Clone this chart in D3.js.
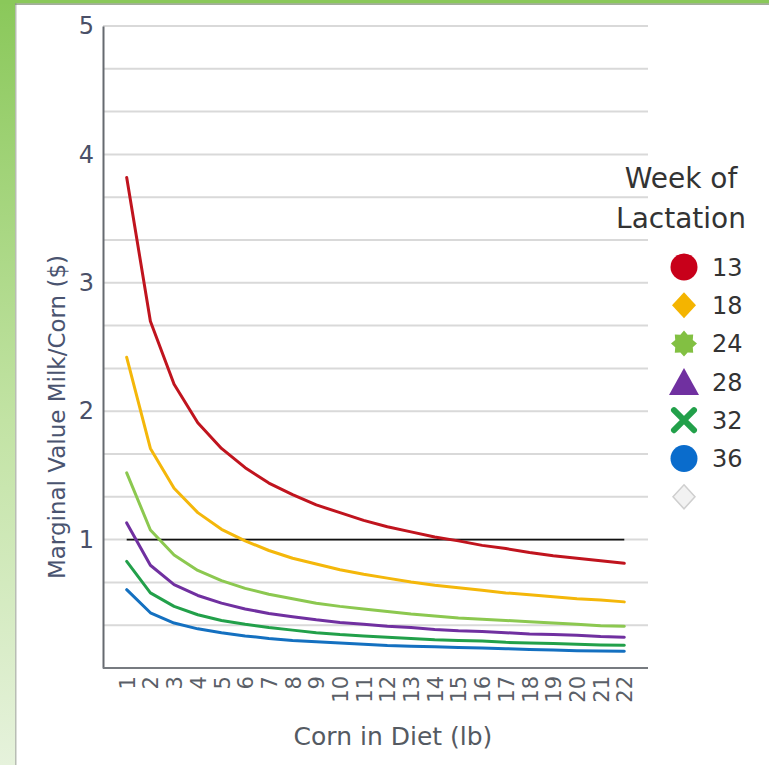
<!DOCTYPE html>
<html>
<head>
<meta charset="utf-8">
<script src="https://cdn.jsdelivr.net/npm/d3@7"></script>
<style>
  html, body { margin: 0; padding: 0; background: #ffffff; }
  svg { display: block; font-family: "DejaVu Sans", Verdana, sans-serif; }
</style>
</head>
<body>
<svg id="chart" width="769" height="765"></svg>
<script>
// ---- data ----
const cornLb = [1,2,3,4,5,6,7,8,9,10,11,12,13,14,15,16,17,18,19,20,21,22];
const weeks = ["13","18","24","28","32","36"];
const week13 = [3.82,2.70,2.21,1.91,1.71,1.56,1.44,1.35,1.27,1.21,1.15,1.10,1.06,1.02,0.99,0.955,0.93,0.90,0.875,0.855,0.835,0.815];
const week18 = [2.42,1.71,1.40,1.21,1.08,0.99,0.915,0.855,0.81,0.765,0.73,0.70,0.67,0.645,0.625,0.605,0.585,0.57,0.555,0.54,0.53,0.515];
const week24 = [1.52,1.075,0.88,0.76,0.68,0.62,0.575,0.54,0.505,0.48,0.46,0.44,0.42,0.405,0.39,0.38,0.37,0.36,0.35,0.34,0.33,0.325];
const week28 = [1.13,0.80,0.65,0.565,0.505,0.46,0.425,0.40,0.375,0.355,0.34,0.325,0.315,0.30,0.29,0.285,0.275,0.265,0.26,0.255,0.245,0.24];
const week32 = [0.83,0.585,0.48,0.415,0.37,0.34,0.315,0.295,0.275,0.26,0.25,0.24,0.23,0.22,0.215,0.21,0.20,0.195,0.19,0.185,0.18,0.177];
const week36 = [0.61,0.43,0.35,0.305,0.275,0.25,0.23,0.215,0.205,0.195,0.185,0.175,0.17,0.165,0.16,0.155,0.15,0.145,0.14,0.135,0.133,0.13];
const seriesValues = [week13, week18, week24, week28, week32, week36];
const seriesColors = ["#c0141e", "#f4b70a", "#8cc850", "#7030a0", "#22a04a", "#1470c0"];
const symbolColors = ["#c8001a", "#f4b400", "#82c042", "#7030a0", "#22a04a", "#0a6ccc"];
const symbolShapes = ["circle", "diamond", "star", "triangle", "cross", "circle"];
const yTicks = [1,2,3,4,5];
const yGrid = d3.range(1, 16).map(d => d / 3);
const referenceLevel = 1;

// ---- layout ----
const svg = d3.select("#chart");
const mLeft = 103, mRight = 648, mTop = 26, mBottom = 668;

// page decoration (green frame)
const defs = svg.append("defs");
const grad = defs.append("linearGradient").attr("id", "leftbar").attr("x1", 0).attr("y1", 0).attr("x2", 0).attr("y2", 1);
grad.append("stop").attr("offset", "0%").attr("stop-color", "#8ac85a");
grad.append("stop").attr("offset", "55%").attr("stop-color", "#c2e3a4");
grad.append("stop").attr("offset", "100%").attr("stop-color", "#e6f2dc");
svg.append("rect").attr("x", 0).attr("y", 0).attr("width", 15).attr("height", 765).attr("fill", "url(#leftbar)");
svg.append("rect").attr("x", 15).attr("y", 0).attr("width", 1.5).attr("height", 765).attr("fill", "#b8bdb4");
svg.append("rect").attr("x", 0).attr("y", 0).attr("width", 769).attr("height", 3.5).attr("fill", "#8ac85a");
svg.append("rect").attr("x", 15).attr("y", 3.5).attr("width", 754).attr("height", 1.2).attr("fill", "#7d8a72");

const x = d3.scalePoint().domain(cornLb).range([mLeft, mRight]).padding(1);
const y = d3.scaleLinear().domain([0, 5]).range([mBottom, mTop]);

// gridlines
svg.append("g").selectAll("line").data(yGrid).join("line")
  .attr("x1", mLeft).attr("x2", mRight)
  .attr("y1", d => y(d)).attr("y2", d => y(d))
  .attr("stroke", "#d9d9d9").attr("stroke-width", 2);

// y axis
const yAxis = svg.append("g").attr("transform", `translate(${mLeft},0)`)
  .call(d3.axisLeft(y).tickValues(yTicks).tickSize(0).tickPadding(9).tickFormat(d3.format("d")));
yAxis.select(".domain").attr("stroke", "#666a70").attr("stroke-width", 2);
yAxis.selectAll("text").attr("font-size", 24).attr("fill", "#4a5068")
  .attr("font-family", "DejaVu Sans, sans-serif");

// x axis
const xAxis = svg.append("g").attr("transform", `translate(0,${mBottom})`)
  .call(d3.axisBottom(x).tickSize(0).tickPadding(0));
xAxis.select(".domain").attr("d", `M${mLeft},0H${mRight}`).attr("stroke", "#777b80").attr("stroke-width", 2);
xAxis.selectAll("text")
  .attr("font-size", 21).attr("fill", "#5a5f68")
  .attr("font-family", "DejaVu Sans, sans-serif")
  .attr("text-anchor", "end")
  .attr("transform", "rotate(-90)")
  .attr("x", -8).attr("y", 0).attr("dy", "0.36em");

// axis titles
svg.append("text").attr("x", 393).attr("y", 745).attr("text-anchor", "middle")
  .attr("font-size", 25).attr("fill", "#555a62").text("Corn in Diet (lb)");
svg.append("text").attr("transform", "translate(65,417) rotate(-90)").attr("text-anchor", "middle")
  .attr("font-size", 23).attr("fill", "#4a5470").text("Marginal Value Milk/Corn ($)");

// reference line
svg.append("line")
  .attr("x1", x(cornLb[0])).attr("x2", x(cornLb[cornLb.length - 1]))
  .attr("y1", y(referenceLevel)).attr("y2", y(referenceLevel))
  .attr("stroke", "#111").attr("stroke-width", 1.6);

// series lines
const line = d3.line().x((d, i) => x(cornLb[i])).y(d => y(d));
svg.append("g").selectAll("path").data(seriesValues).join("path")
  .attr("d", d => line(d))
  .attr("fill", "none")
  .attr("stroke", (d, i) => seriesColors[i])
  .attr("stroke-width", 3)
  .attr("stroke-linejoin", "round").attr("stroke-linecap", "round");

// legend
const lg = svg.append("g");
lg.append("text").attr("x", 681).attr("y", 188).attr("text-anchor", "middle")
  .attr("font-size", 28).attr("fill", "#333").text("Week of");
lg.append("text").attr("x", 681).attr("y", 228).attr("text-anchor", "middle")
  .attr("font-size", 28).attr("fill", "#333").text("Lactation");

const rowY = i => 267 + i * 38.3;
const sx = 684;
function starPath(r, inner, n) {
  const pts = [];
  for (let k = 0; k < 2 * n; k++) {
    const a = Math.PI * k / n - Math.PI / 2;
    const rr = k % 2 === 0 ? r : inner;
    pts.push([Math.cos(a) * rr, Math.sin(a) * rr]);
  }
  return "M" + pts.map(p => p.join(",")).join("L") + "Z";
}
function drawSymbol(g, shape, color) {
  if (shape === "circle") {
    g.append("circle").attr("r", 13.5).attr("fill", color);
  } else if (shape === "diamond") {
    g.append("path").attr("d", "M0,-13L12,0L0,13L-12,0Z").attr("fill", color);
  } else if (shape === "star") {
    g.append("path").attr("d", starPath(13, 9.5, 8)).attr("fill", color);
  } else if (shape === "triangle") {
    g.append("path").attr("d", "M0,-14L15,13L-15,13Z").attr("fill", color);
  } else if (shape === "cross") {
    g.append("path").attr("d", "M-10,-10L10,10M10,-10L-10,10").attr("stroke", color)
      .attr("stroke-width", 6).attr("stroke-linecap", "round");
  }
}
weeks.forEach((w, i) => {
  const g = lg.append("g").attr("transform", `translate(${sx},${rowY(i)})`);
  drawSymbol(g, symbolShapes[i], symbolColors[i]);
  lg.append("text").attr("x", 712).attr("y", rowY(i)).attr("dy", "0.36em")
    .attr("font-size", 24).attr("fill", "#333").text(w);
});
// empty legend entry
lg.append("path").attr("transform", `translate(${sx},${rowY(6)})`)
  .attr("d", "M0,-12L11,0L0,12L-11,0Z").attr("fill", "#f2f2f2").attr("stroke", "#cfcfcf").attr("stroke-width", 1.5);
</script>
</body>
</html>
